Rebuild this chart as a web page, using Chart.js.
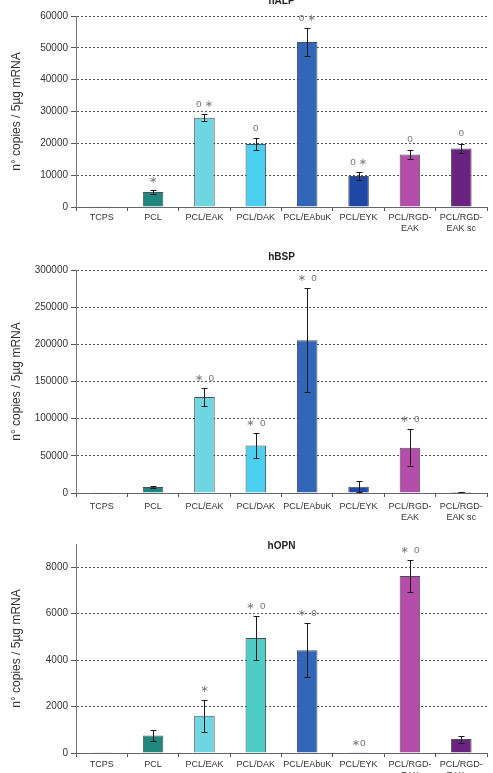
<!DOCTYPE html>
<html>
<head>
<meta charset="utf-8">
<script src="https://cdn.jsdelivr.net/npm/chart.js@4/dist/chart.umd.min.js"></script>
<style>
  html, body { margin: 0; padding: 0; background: #fff; }
  body { width: 493px; height: 773px; position: relative; overflow: hidden; }
  .panel { position: absolute; left: 0; width: 493px; }
</style>
</head>
<body>
<div class="panel" style="top:0;height:240px"><canvas id="alpChart"></canvas></div>
<div class="panel" style="top:244px;height:280px"><canvas id="bspChart"></canvas></div>
<div class="panel" style="top:530px;height:243px"><canvas id="opnChart"></canvas></div>
<script>
// categories (same for all three genes)
const groups = ["TCPS", "PCL", "PCL/EAK", "PCL/DAK", "PCL/EAbuK", "PCL/EYK",
                ["PCL/RGD-", "EAK"], ["PCL/RGD-", "EAK sc"]];

// hALP
const alpMean = [100, 4700, 28000, 19800, 51800, 9700, 16500, 18400];
const alpErr = [0, 700, 1100, 1800, 4300, 1300, 1500, 1500];
const alpNotes = ["", "∗", "o ∗", "o", "o ∗", "o ∗", "o", "o"];
const alpTicks = [0, 60000, 10000];

// hBSP
const bspMean = [500, 8000, 129000, 64000, 205500, 8500, 61000, 1500];
const bspErr = [0, 1000, 12000, 17000, 70000, 7000, 25000, 400];
const bspNotes = ["", "", "∗  o", "∗  o", "∗  o", "", "∗  o", ""];
const bspTicks = [0, 300000, 50000];

// hOPN (axis runs on to 9000 without a label)
const opnMean = [30, 750, 1600, 4950, 4430, 10, 7620, 600];
const opnErr = [0, 220, 700, 930, 1150, 0, 700, 150];
const opnNotes = ["", "", "∗", "∗  o", "∗  o", "∗o", "∗  o", ""];
const opnTicks = [0, 8000, 2000];

const yTitle = "n° copies / 5µg mRNA";

// bar colours
const colorsA = ["#2c2c3a", "#1f877d", "#6ed6e0", "#4bd0f0", "#3266b8", "#1e48a5", "#b44eaa", "#6a2380"];
const colorsB = ["#2c2c3a", "#1f877d", "#6ed6e0", "#4eccc6", "#3266b8", "#1e48a5", "#b44eaa", "#6a2380"];

// error bars, significance marks and panel title
const marksPlugin = {
  id: "marks",
  afterDatasetsDraw(chart, args, opts) {
    const ctx = chart.ctx;
    const y = chart.scales.y;
    const vals = chart.data.datasets[0].data;
    const bars = chart.getDatasetMeta(0).data;
    ctx.save();
    ctx.strokeStyle = "#1a1a1a";
    ctx.lineWidth = 1;
    bars.forEach((bar, i) => {
      const e = opts.errors[i];
      if (!e) return;
      const top = Math.round(y.getPixelForValue(vals[i] + e)) + 0.5;
      const bot = Math.round(y.getPixelForValue(Math.max(vals[i] - e, 0))) + 0.5;
      const x = Math.round(bar.x) + 0.5;
      ctx.beginPath();
      ctx.moveTo(x, top); ctx.lineTo(x, bot);
      ctx.moveTo(x - 3, top); ctx.lineTo(x + 3, top);
      ctx.moveTo(x - 3, bot); ctx.lineTo(x + 3, bot);
      ctx.stroke();
    });
    ctx.fillStyle = "#777";
    ctx.font = '10px "Liberation Sans", "DejaVu Sans"';
    ctx.textAlign = "center";
    ctx.textBaseline = "middle";
    bars.forEach((bar, i) => {
      if (!opts.notes[i]) return;
      ctx.fillText(opts.notes[i], bar.x, y.getPixelForValue(vals[i] + opts.errors[i]) - 10);
    });
    ctx.fillStyle = "#222";
    ctx.font = 'bold 10px "Liberation Sans"';
    const ca = chart.chartArea;
    ctx.fillText(opts.title, (ca.left + ca.right) / 2, ca.top - opts.titleGap);
    ctx.restore();
  }
};

function makeChart(id, mean, err, notes, ticks, colors, o) {
  return new Chart(document.getElementById(id), {
    type: "bar",
    data: {
      labels: groups,
      datasets: [{
        data: mean,
        backgroundColor: colors,
        borderColor: "rgba(30,35,45,0.8)",
        borderWidth: 1,
        categoryPercentage: 1,
        barPercentage: 0.4
      }]
    },
    options: {
      responsive: true,
      maintainAspectRatio: false,
      animation: false,
      devicePixelRatio: 1,
      layout: { padding: { top: o.padTop, right: 6, left: 0, bottom: 0 } },
      plugins: {
        legend: { display: false },
        tooltip: { enabled: false },
        marks: { errors: err, notes: notes, title: o.title, titleGap: o.titleGap }
      },
      scales: {
        x: {
          grid: { drawOnChartArea: false, drawTicks: true, tickLength: 4, tickColor: "#555" },
          border: { color: "#666" },
          ticks: { color: "#333", padding: o.xPad, maxRotation: 0, autoSkip: false,
                   font: { family: "Liberation Sans", size: 9 } },
          afterFit(scale) { scale.height = o.xHeight; }
        },
        y: {
          min: ticks[0],
          max: ticks[1],
          ticks: { stepSize: ticks[2], color: "#333", padding: 3,
                   callback: v => String(v),
                   font: { family: "Liberation Sans", size: 10 } },
          afterBuildTicks(scale) { if (o.axisMax) scale.max = o.axisMax; },
          grid: {
            color: c => (c.tick && c.tick.value === 0) ? "rgba(0,0,0,0)" : "#555",
            tickBorderDash: [],
            tickColor: "#555",
            tickLength: 5
          },
          border: { color: "#777", dash: [2, 2] },
          title: { display: true, text: yTitle, color: "#333", padding: { top: 9, bottom: 0 },
                   font: { family: "Liberation Sans", size: 12 } },
          afterFit(scale) { scale.width = 76; }
        }
      }
    },
    plugins: [marksPlugin]
  });
}

makeChart("alpChart", alpMean, alpErr, alpNotes, alpTicks, colorsA,
  { padTop: 16, xHeight: 33, xPad: 1, title: "hALP", titleGap: 15 });
makeChart("bspChart", bspMean, bspErr, bspNotes, bspTicks, colorsA,
  { padTop: 26, xHeight: 31, xPad: 4, title: "hBSP", titleGap: 13 });
makeChart("opnChart", opnMean, opnErr, opnNotes, opnTicks, colorsB,
  { padTop: 14, xHeight: 20, xPad: 2, title: "hOPN", titleGap: -2, axisMax: 9000 });
</script>
</body>
</html>
